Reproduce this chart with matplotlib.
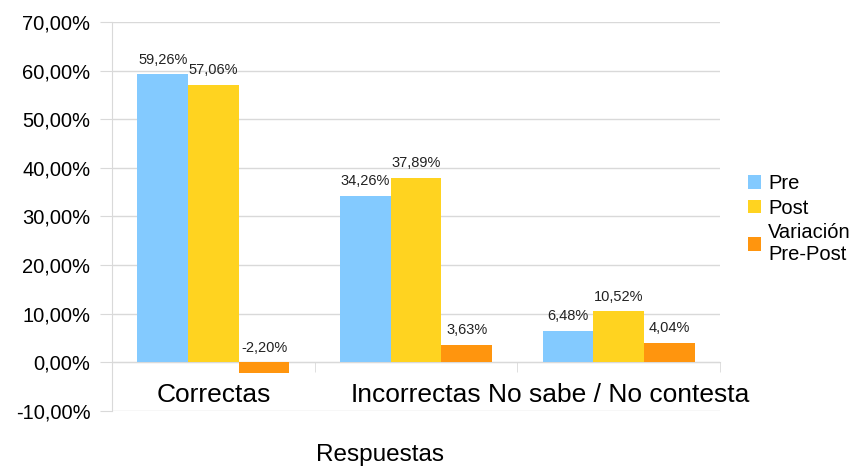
import matplotlib.pyplot as plt
import numpy as np
from matplotlib.ticker import FuncFormatter, FixedLocator

plt.rcParams['font.family'] = ['Liberation Sans', 'DejaVu Sans']

# Data
categories = ['Correctas', 'Incorrectas', 'No sabe / No contesta']
series_names = ['Pre', 'Post', 'Variación\nPre-Post']
pre = [59.26, 34.26, 6.48]
post = [57.06, 37.89, 10.52]
variacion = [-2.20, 3.63, 4.04]
colors = ['#83CAFF', '#FFD320', '#FF950E']


def pct(v):
    return f'{v:.2f}%'.replace('.', ',')


fig = plt.figure(figsize=(8.54, 4.73), dpi=100)
ax = fig.add_axes([112 / 854, 1 - 411 / 473, (720 - 112) / 854, (411 - 22) / 473])

x = np.arange(len(categories))
width = 0.25
grid_col = '#d9d9d9'

for i, (vals, name) in enumerate(zip([pre, post, variacion], series_names)):
    bars = ax.bar(x + (i - 1) * width, vals, width, color=colors[i], label=name, zorder=3)
    for b, v in zip(bars, vals):
        ax.annotate(pct(v), (b.get_x() + b.get_width() / 2, max(v, 0)),
                    xytext=(0, 5.5), textcoords='offset points',
                    ha='center', va='bottom', fontsize=10.5, color='#222222')

ax.set_xlim(-0.5, 2.5)
ax.set_ylim(-10, 70)
ax.set_yticks(np.arange(-10, 71, 10))
ax.yaxis.set_major_formatter(FuncFormatter(lambda v, p: pct(v)))
ax.tick_params(axis='y', length=8.6, color=grid_col, labelsize=14.5, pad=7)
ax.grid(axis='y', color=grid_col, linewidth=1, zorder=0)

# category axis drawn at zero
ax.spines['bottom'].set_position(('data', 0))
ax.spines['bottom'].set_color(grid_col)
ax.spines['left'].set_color(grid_col)
ax.spines['top'].set_visible(False)
ax.spines['right'].set_visible(False)
ax.set_xticks(x)
ax.set_xticklabels(categories, fontsize=19)
ax.xaxis.set_minor_locator(FixedLocator([0.5, 1.5, 2.5]))
ax.tick_params(axis='x', which='major', length=0, pad=15)
ax.tick_params(axis='x', which='minor', length=7.2, color=grid_col)

fig.text(380 / 854, 1 - 455 / 473, 'Respuestas', ha='center', va='center', fontsize=17.5)

fig.legend(loc='center left', bbox_to_anchor=(738 / 854, 1 - 219 / 473), frameon=False,
           fontsize=14.5, handlelength=0.65, handleheight=0.65, handletextpad=0.35,
           labelspacing=0.28, borderpad=0)

fig.savefig('out.png', dpi=100)
